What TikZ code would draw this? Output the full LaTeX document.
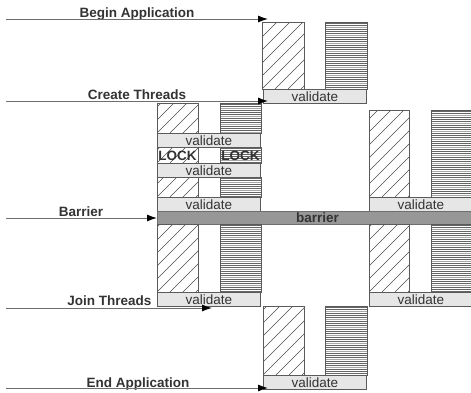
\documentclass[tikz,border=0pt]{standalone}
\usepackage{fontspec}
\setmainfont{Liberation Sans}
\usetikzlibrary{arrows.meta}
\definecolor{txt}{HTML}{333333}
\definecolor{boxdraw}{HTML}{5A5A5A}
\definecolor{valfill}{HTML}{E6E6E6}
\definecolor{barfill}{HTML}{979797}
\definecolor{linegray}{HTML}{6E6E6E}
\tikzset{
  lab/.style={font=\fontsize{13.5}{14}\selectfont\bfseries, text=txt, anchor=base, inner sep=0pt},
  valbox/.style={draw=boxdraw, fill=valfill, line width=0.8pt, minimum width=103pt, minimum height=14pt,
    inner sep=0pt, anchor=north west, font=\fontsize{13.5}{14}\selectfont, text=txt},
  barbox/.style={draw=linegray, fill=barfill, line width=0.8pt, minimum width=320pt, minimum height=13pt,
    inner sep=0pt, anchor=north west, font=\fontsize{13.5}{14}\selectfont\bfseries, text=txt},
  locktxt/.style={font=\fontsize{13.5}{14}\selectfont\bfseries, text=txt, inner sep=0pt},
  boxline/.style={draw=boxdraw, line width=0.8pt},
  hatchline/.style={draw=black!70, line width=0.4pt},
  stripe/.style={draw=black!60, line width=0.8pt},
  stripelight/.style={draw=black!35, line width=0.8pt},
  arr/.style={draw=linegray, line width=1pt, -{Latex[length=10pt,width=7pt,color=black]}},
}
\newcommand\hatchrect[4]{%
  \begin{scope}
    \clip (#1,#2) rectangle (#3,#4);
    \foreach \k in {-104,-91,...,65} \draw[hatchline] (#1+\k,#4) -- ++(110,-110);
  \end{scope}
  \draw[boxline] (#1,#2) rectangle (#3,#4);}
\newcommand\linerect[4]{%
  \begin{scope}
    \clip (#1,#2) rectangle (#3,#4);
    \foreach \i in {0,...,45} {
      \pgfmathtruncatemacro\m{mod(\i,4)}
      \ifnum\m=2 \draw[stripelight] (#1,#2+1.5+2*\i) -- (#3,#2+1.5+2*\i);
      \else \draw[stripe] (#1,#2+1.5+2*\i) -- (#3,#2+1.5+2*\i); \fi }
  \end{scope}
  \draw[boxline] (#1,#2) rectangle (#3,#4);}
\begin{document}
\begin{tikzpicture}[x=1pt,y=-1pt]
\clip (0,0) rectangle (471,392);
\fill[white] (0,0) rectangle (471,392);

% group A (top)
\hatchrect{262}{22}{304}{89}
\linerect{325}{22}{367}{89}
\node[valbox] (vA) at (263,89) {validate};

% group B (left threads)
\hatchrect{157}{103}{198}{133}
\linerect{220}{103}{261}{133}
\node[valbox] (vB1) at (157,133) {validate};
\hatchrect{157}{147}{198}{163}
\linerect{220}{147}{261}{163}
\node[locktxt] (lock1) at (177.5,155.5) {LOCK};
\node[locktxt] (lock2) at (240.5,155.5) {LOCK};
\node[valbox] (vB2) at (157,163) {validate};
\hatchrect{157}{177}{198}{197}
\linerect{220}{177}{261}{197}
\node[valbox] (vB3) at (157,197) {validate};

% group C (right threads)
\hatchrect{369}{110}{409}{197}
\linerect{431}{110}{480}{197}
\node[valbox] (vC1) at (369,197) {validate};

% barrier
\node[barbox] (bar) at (157,211) {barrier};

% below barrier
\hatchrect{157}{224}{198}{292}
\linerect{220}{224}{261}{292}
\node[valbox] (vB4) at (157,292) {validate};
\hatchrect{369}{224}{409}{292}
\linerect{431}{224}{480}{292}
\node[valbox] (vC2) at (369,292) {validate};

% group D (bottom)
\hatchrect{263}{306}{304}{375}
\linerect{325}{306}{367}{375}
\node[valbox] (vD) at (263,375) {validate};

% labels
\node[lab] (tBegin) at (137,17.7) {Begin Application};
\node[lab] (tCreate) at (137,99) {Create Threads};
\node[lab] (tBarrier) at (81,216) {Barrier};
\node[lab] (tJoin) at (109.5,305.5) {Join Threads};
\node[lab] (tEnd) at (138,387) {End Application};

% arrows
\coordinate (b0) at (6,19);   \coordinate (b1) at (268,19);
\coordinate (c0) at (6,101);  \coordinate (c1) at (268,101);
\coordinate (r0) at (6,218);  \coordinate (r1) at (157,218);
\coordinate (j0) at (6,308);  \coordinate (j1) at (212,308);
\coordinate (e0) at (6,388);  \coordinate (e1) at (268,388);
\draw[arr] (b0) -- (b1);
\draw[arr] (c0) -- (c1);
\draw[arr] (r0) -- (r1);
\draw[arr] (j0) -- (j1);
\draw[arr] (e0) -- (e1);
\end{tikzpicture}
\end{document}
